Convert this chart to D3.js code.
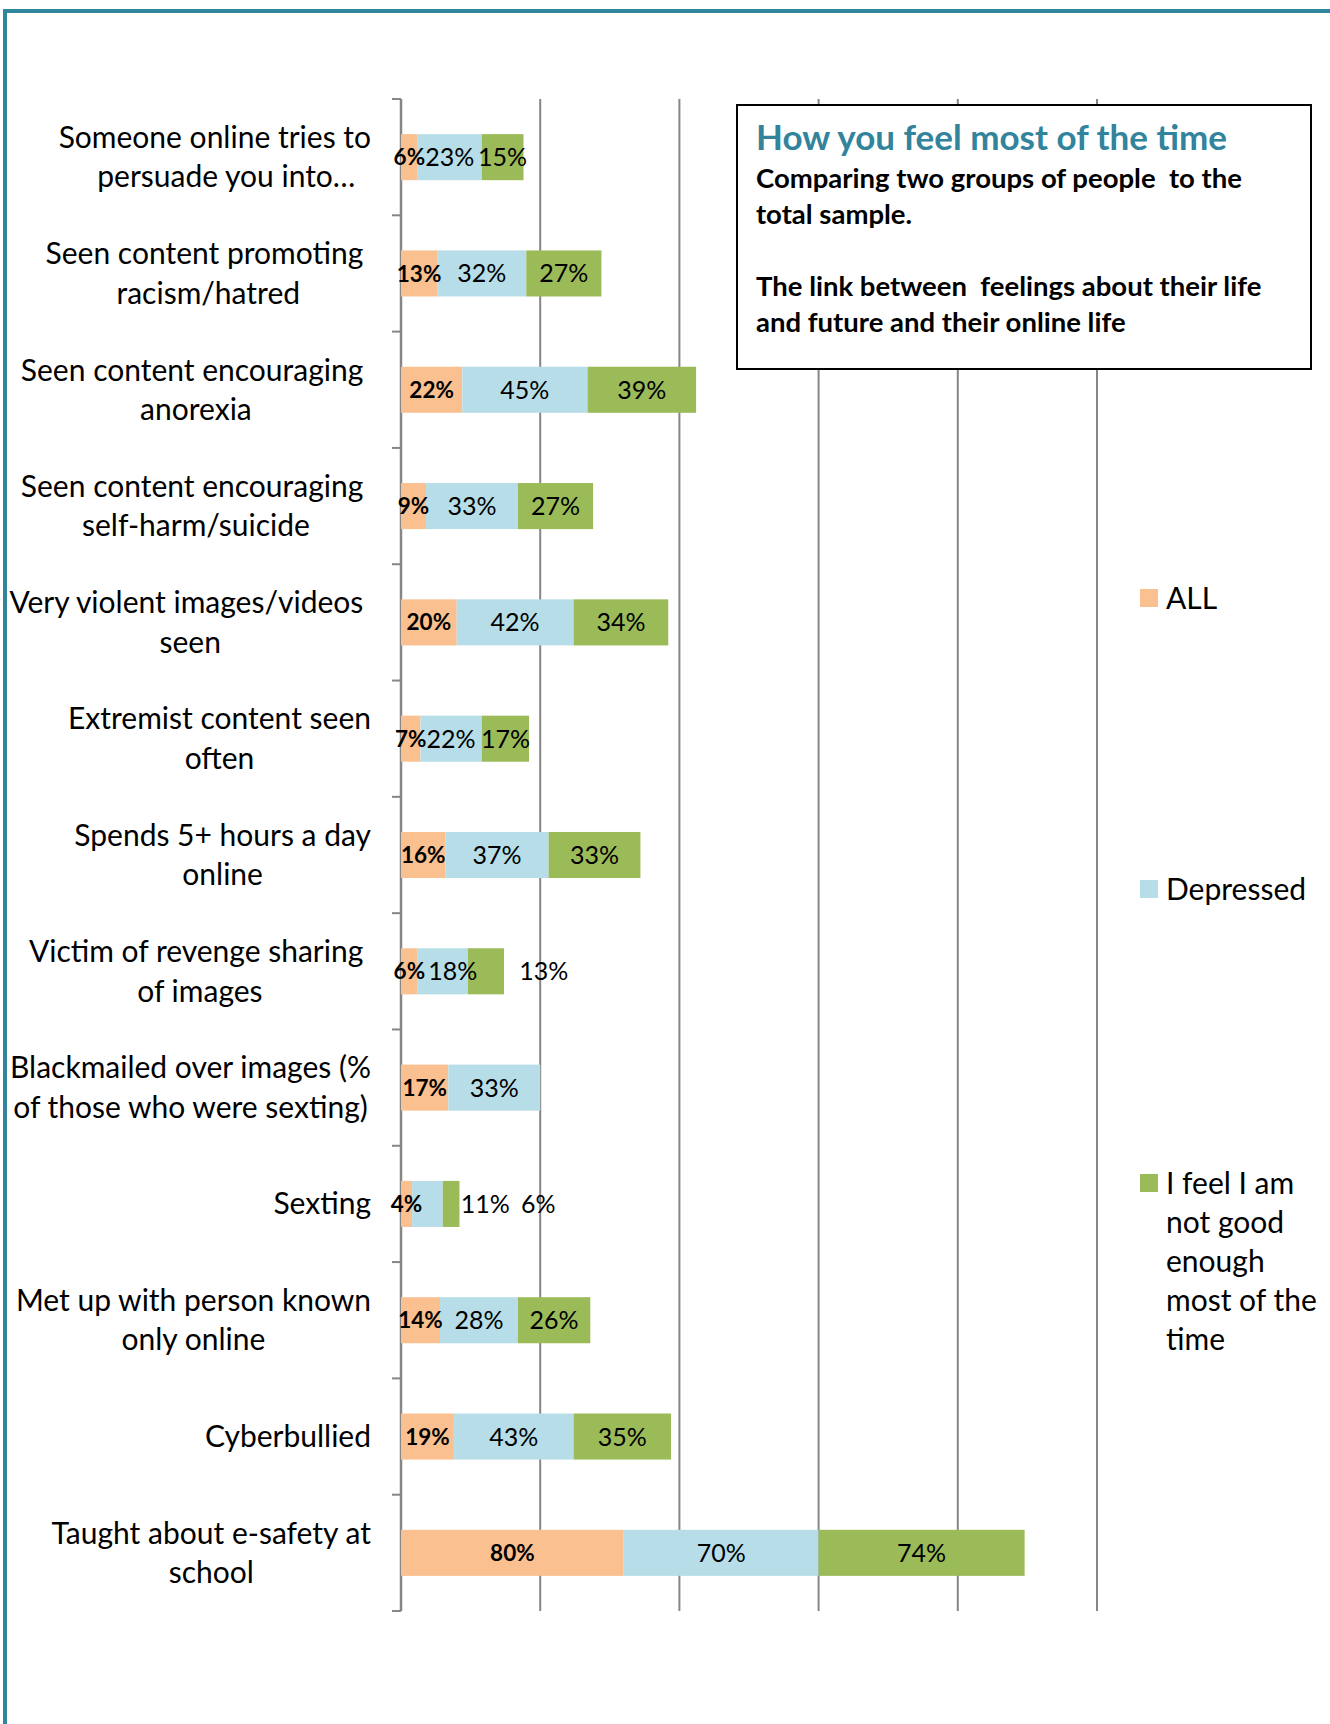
<!DOCTYPE html>
<html>
<head>
<meta charset="utf-8">
<script src="https://cdn.jsdelivr.net/npm/d3@7"></script>
<style>
  html, body { margin: 0; padding: 0; background: #fff; }
  svg { display: block; }
  text { font-family: Lato, "Open Sans", sans-serif; white-space: pre; }
</style>
</head>
<body>
<svg id="chart" width="1330" height="1724"></svg>
<script>
// Category labels, one entry per bar, split into the lines they wrap to.
const categories = [
  ["Someone online tries to", "   persuade you into…"],
  ["Seen content promoting ", "racism/hatred"],
  ["Seen content encouraging ", "anorexia"],
  ["Seen content encouraging ", "self-harm/suicide"],
  ["Very violent images/videos ", "seen"],
  ["Extremist content seen", "often"],
  ["Spends 5+ hours a day", "online"],
  ["Victim of revenge sharing ", "of images"],
  ["Blackmailed over images (%", "of those who were sexting)"],
  ["Sexting"],
  ["Met up with person known", "only online"],
  ["Cyberbullied"],
  ["Taught about e-safety at", "school"]
];

// Percentages per group (null = not reported)
const allValues       = [6, 13, 22, 9, 20, 7, 16, 6, 17, 4, 14, 19, 80];
const depressedValues = [23, 32, 45, 33, 42, 22, 37, 18, 33, 11, 28, 43, 70];
const notGoodValues   = [15, 27, 39, 27, 34, 17, 33, 13, null, 6, 26, 35, 74];

const seriesNames = ["ALL", "Depressed", "I feel I am not good enough most of the time"];
const legendLines = [["ALL"], ["Depressed"], ["I feel I am", "not good", "enough", "most of the", "time"]];

// Value-axis gridline ticks (percent)
const gridTicks = [50, 100, 150, 200, 250];

// Labels that sit away from their segment centre: [row, series, value position]
const movedLabels = [[7, 1, 18.6], [7, 2, 51.3], [9, 1, 30.3], [9, 2, 49.3]];

const titleText = "How you feel most of the time";
const noteLines = [
  "Comparing two groups of people  to the",
  "total sample.",
  "",
  "The link between  feelings about their life",
  "and future and their online life"
];

const colors = ["#FAC090", "#B7DEE8", "#9BBB59"];

const svg = d3.select("#chart");

// Teal page frame
svg.append("path")
  .attr("d", "M5,1724 L5,11 L1330,11")
  .attr("fill", "none")
  .attr("stroke", "#31859C")
  .attr("stroke-width", 4);

const x = d3.scaleLinear().domain([0, 250]).range([401, 1097]);
const y = d3.scaleBand()
  .domain(d3.range(categories.length))
  .range([99, 1611])
  .paddingInner(0.604)
  .paddingOuter(0.302);

// Stack the three groups end to end
const rows = categories.map((c, i) => ({
  i,
  v: [allValues[i], depressedValues[i], notGoodValues[i]]
}));
const stack = d3.stack()
  .keys([0, 1, 2])
  .value((d, k) => d.v[k] == null ? 0 : d.v[k]);
const stacked = stack(rows);

// Gridlines
const gridG = svg.append("g");
gridG.selectAll("line").data(gridTicks).join("line")
  .attr("x1", d => x(d)).attr("x2", d => x(d))
  .attr("y1", 99).attr("y2", 1611)
  .attr("stroke", "#868686").attr("stroke-width", 2);

// Category axis
const step = y.step();
const boundaries = d3.range(categories.length + 1).map(k => 99 + k * step);
const axisG = svg.append("g");
axisG.append("line")
  .attr("x1", x(0)).attr("x2", x(0))
  .attr("y1", 99).attr("y2", 1611)
  .attr("stroke", "#868686").attr("stroke-width", 2.5);
axisG.selectAll("line.tick").data(boundaries).join("line")
  .attr("class", "tick")
  .attr("x1", x(0) - 9).attr("x2", x(0))
  .attr("y1", d => d).attr("y2", d => d)
  .attr("stroke", "#868686").attr("stroke-width", 2);

// Bars
const barG = svg.append("g");
stacked.forEach((layer, k) => {
  barG.selectAll(null).data(layer.filter((d, i) => rows[i].v[k] != null)).join("rect")
    .attr("x", d => x(d[0]))
    .attr("y", d => y(d.data.i))
    .attr("width", d => x(d[1]) - x(d[0]))
    .attr("height", y.bandwidth())
    .attr("fill", colors[k]);
});

// Segment value labels
const moved = new Map(movedLabels.map(m => [m[0] + "-" + m[1], m[2]]));
const labelG = svg.append("g");
stacked.forEach((layer, k) => {
  layer.forEach((d, i) => {
    const val = rows[i].v[k];
    if (val == null) return;
    const key = i + "-" + k;
    const cx = moved.has(key) ? x(moved.get(key)) : x((d[0] + d[1]) / 2);
    labelG.append("text")
      .attr("x", cx)
      .attr("y", y(i) + y.bandwidth() / 2)
      .attr("dy", "0.36em")
      .attr("text-anchor", "middle")
      .attr("font-size", k === 0 ? 22.5 : 25)
      .attr("font-weight", k === 0 ? 700 : 400)
      .attr("fill", "#000")
      .text(val + "%");
  });
});

// Category labels: lines centred within a block that ends just left of the axis
const catG = svg.append("g");
const lineGap = 39.5;
categories.forEach((lines, i) => {
  const cy = y(i) + y.bandwidth() / 2;
  const t = catG.append("text")
    .attr("font-size", 30)
    .attr("fill", "#000")
    .attr("text-anchor", "middle");
  const spans = lines.map((ln, j) => t.append("tspan")
    .attr("y", cy + (j - (lines.length - 1) / 2) * lineGap + 10.5)
    .text(ln));
  const widths = spans.map(s => s.node().getComputedTextLength());
  const blockW = d3.max(widths);
  const right = 371;
  spans.forEach(s => s.attr("x", right - blockW / 2));
});

// Title box
const boxG = svg.append("g");
boxG.append("rect")
  .attr("x", 737).attr("y", 105)
  .attr("width", 574).attr("height", 264)
  .attr("fill", "#fff")
  .attr("stroke", "#000").attr("stroke-width", 2);
boxG.append("text")
  .attr("x", 756).attr("y", 150)
  .attr("font-size", 35).attr("font-weight", 700)
  .attr("fill", "#31849B")
  .text(titleText);
boxG.selectAll("text.note").data(noteLines).join("text")
  .attr("class", "note")
  .attr("x", 756)
  .attr("y", (d, j) => 188 + j * 36)
  .attr("font-size", 27.5).attr("font-weight", 700)
  .attr("fill", "#000")
  .text(d => d);

// Legend
const legendY = [589, 880, 1174];
const legendG = svg.append("g");
legendLines.forEach((lines, k) => {
  legendG.append("rect")
    .attr("x", 1140).attr("y", legendY[k])
    .attr("width", 18).attr("height", 18)
    .attr("fill", colors[k]);
  const t = legendG.append("text").attr("font-size", 30).attr("fill", "#000");
  lines.forEach((ln, j) => t.append("tspan")
    .attr("x", 1166)
    .attr("y", legendY[k] + 20 + j * 39)
    .text(ln));
});
</script>
</body>
</html>
